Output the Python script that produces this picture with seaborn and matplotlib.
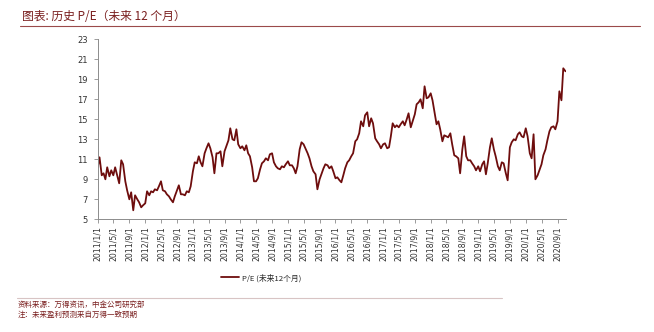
import matplotlib
matplotlib.use("Agg")
import matplotlib.pyplot as plt
from matplotlib.lines import Line2D
import seaborn as sns
import pandas as pd

# ---- data (semi-monthly readings, 2011-01-01 .. 2020-10-15) ----
start_date = "2011-01-01"
pe_2011_2013 = [
    10.2, 11.2, 9.4, 9.6, 9.0, 10.2, 9.3, 9.9, 9.4, 10.2,
    9.3, 8.6, 10.9, 10.5, 8.8, 7.9, 7.0, 7.7, 5.9, 7.4,
    7.0, 6.7, 6.2, 6.4, 6.6, 7.8, 7.4, 7.8, 7.7, 8.0,
    7.9, 8.3, 8.8, 7.9, 7.8, 7.5, 7.3, 7.0, 6.7, 7.3,
    7.9, 8.4, 7.5, 7.5, 7.4, 7.8, 7.7, 8.3, 9.8, 10.7,
    10.6, 11.3, 10.7, 10.3, 11.6, 12.1, 12.6, 12.1, 11.2, 9.6,
]
pe_2013_2015 = [
    11.6, 11.6, 11.8, 10.3, 11.8, 12.3, 12.9, 14.1, 13.0, 12.9,
    14.0, 12.5, 12.1, 12.3, 11.9, 12.4, 11.6, 11.3, 10.2, 8.8,
    8.8, 9.1, 10.0, 10.6, 10.8, 11.1, 10.9, 11.5, 11.6, 10.7,
    10.3, 10.1, 10.0, 10.3, 10.2, 10.5, 10.8, 10.4, 10.4, 10.1,
    9.6, 10.3, 12.0, 12.7, 12.5, 12.1, 11.6, 11.1, 10.3, 9.8,
    9.5, 8.0, 9.0, 9.5, 10.1, 10.5, 10.4, 10.1, 10.3, 9.8,
]
pe_2016_2018 = [
    9.1, 9.2, 8.9, 8.7, 9.4, 10.1, 10.7, 10.9, 11.3, 11.6,
    12.8, 13.0, 13.6, 14.8, 14.3, 15.4, 15.7, 14.3, 15.1, 14.6,
    13.1, 12.8, 12.5, 12.1, 12.5, 12.6, 12.1, 12.2, 13.3, 14.6,
    14.2, 14.4, 14.2, 14.5, 14.8, 14.4, 15.0, 15.6, 14.2, 14.8,
    15.5, 16.5, 16.7, 17.0, 16.1, 18.3, 17.1, 17.2, 17.6, 16.9,
    15.6, 14.5, 14.8, 14.0, 12.8, 13.4, 13.3, 13.2, 13.6, 12.5,
]
pe_2018_2020 = [
    11.4, 11.3, 11.1, 9.6, 12.0, 13.3, 11.3, 10.9, 10.9, 10.6,
    10.3, 9.9, 10.3, 9.8, 10.5, 10.8, 9.5, 10.6, 12.2, 13.1,
    12.0, 11.3, 10.3, 9.9, 10.7, 10.6, 9.6, 8.9, 12.2, 12.7,
    13.0, 12.9, 13.5, 13.7, 13.3, 13.2, 14.1, 13.3, 11.6, 11.1,
    13.5, 9.0, 9.4, 9.9, 10.5, 11.4, 12.0, 12.9, 13.8, 14.2,
    14.3, 14.0, 14.8, 17.8, 16.9, 20.1, 19.8,
]
pe_values = pe_2011_2013 + pe_2013_2015 + pe_2016_2018 + pe_2018_2020
y_ticks = [5, 7, 9, 11, 13, 15, 17, 19, 21, 23]
tick_start, tick_end = "2011-01-01", "2020-09-01"

title_text = "图表: 历史 P/E（未来 12 个月）"
legend_label = "P/E (未来12个月)"
source_text = "资料来源：万得资讯，中金公司研究部"
note_text = "注：未来盈利预测来自万得一致预期"

dates = pd.date_range(start_date, periods=len(pe_values), freq="SMS")
df = pd.DataFrame({"date": dates, "pe": pe_values})

sns.set_theme(style="white")
plt.rcParams["font.family"] = ["Noto Sans CJK SC", "DejaVu Sans"]

W, H = 654, 332
fig = plt.figure(figsize=(W / 100, H / 100), dpi=100)

line_color = "#6e0d0d"
red_text = "#7a1f1f"
axis_color = "#8c8c8c"

ax = fig.add_axes([97.7 / W, 1 - 219.3 / H, (566 - 97.7) / W, 180 / H])
sns.lineplot(data=df, x="date", y="pe", ax=ax, color=line_color,
             linewidth=1.3, label=legend_label, legend=False)

ax.set_ylim(5, 23)
ax.set_yticks(y_ticks)
ax.set_xlim(pd.Timestamp(start_date), pd.Timestamp("2020-11-05"))
tick_dates = pd.date_range(tick_start, tick_end, freq="4MS")
ax.set_xticks(tick_dates)
ax.set_xticklabels([f"{d.year}/{d.month}/{d.day}" for d in tick_dates],
                   rotation=90, family="DejaVu Sans", fontsize=5.6, color="#333333")
for lab in ax.get_yticklabels():
    lab.set_family("DejaVu Sans")
ax.tick_params(axis="y", labelsize=6, colors="#333333", length=3,
               width=0.6, direction="out", left=True, pad=4)
ax.tick_params(axis="x", length=3, width=0.6, direction="out", bottom=True,
               pad=2, colors="#333333")
ax.tick_params(axis="both", color=axis_color)
ax.set_xlabel("")
ax.set_ylabel("")
ax.grid(False)
for side in ["top", "right"]:
    ax.spines[side].set_visible(False)
for side in ["left", "bottom"]:
    ax.spines[side].set_color(axis_color)
    ax.spines[side].set_linewidth(0.7)

# legend
handle = Line2D([0], [0], color=line_color, linewidth=1.3)
fig.legend([handle], [legend_label], loc="center",
           bbox_to_anchor=(261 / W, 1 - 278 / H), frameon=False,
           handlelength=2.3, handletextpad=0.4,
           prop={"family": ["Noto Sans CJK SC", "DejaVu Sans"], "size": 5.6})

# title and underline
fig.text(22 / W, 1 - 17 / H, title_text, fontsize=8.5, color=red_text,
         style="italic", ha="left", va="center")
fig.add_artist(Line2D([20 / W, 640 / W], [1 - 25.5 / H, 1 - 25.5 / H],
                      color="#9b4a4a", linewidth=0.8, transform=fig.transFigure))

# footer separator and notes
fig.add_artist(Line2D([17 / W, 502 / W], [1 - 297.5 / H, 1 - 297.5 / H],
                      color="#d8c4c4", linewidth=0.8, transform=fig.transFigure))
fig.text(18 / W, 1 - 304.5 / H, source_text, fontsize=5.4, color=red_text,
         style="italic", ha="left", va="center")
fig.text(18 / W, 1 - 314.5 / H, note_text, fontsize=5.4, color=red_text,
         style="italic", ha="left", va="center")

fig.savefig("out.png", dpi=100, facecolor="white")
